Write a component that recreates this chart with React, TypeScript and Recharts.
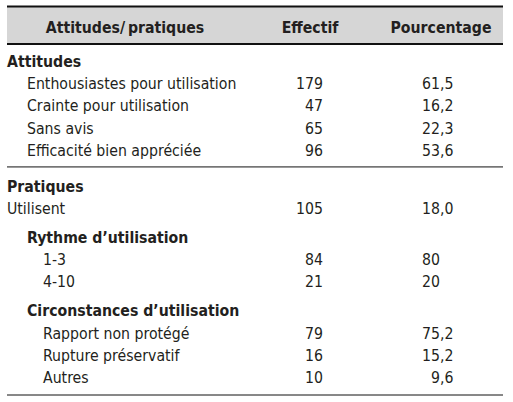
import React from 'react';
import {
  ComposedChart,
  Scatter,
  XAxis,
  YAxis,
  ReferenceArea,
  ReferenceLine
} from 'recharts';

// Table content
const headers = ['Attitudes/\u2009pratiques', 'Effectif', 'Pourcentage'];
const rowLabels = [
  'Attitudes',
  'Enthousiastes pour utilisation',
  'Crainte pour utilisation',
  'Sans avis',
  'Efficacité bien appréciée',
  'Pratiques',
  'Utilisent',
  'Rythme d\u2019utilisation',
  '1-3',
  '4-10',
  'Circonstances d\u2019utilisation',
  'Rapport non protégé',
  'Rupture préservatif',
  'Autres'
];
const rowKinds = [
  'section', 'item', 'item', 'item', 'item',
  'section', 'plain',
  'group', 'subitem', 'subitem',
  'group', 'subitem', 'subitem', 'subitem'
];
const effectifs = [null, 179, 47, 65, 96, null, 105, null, 84, 21, null, 79, 16, 10];
const pourcentages = ['', '61,5', '16,2', '22,3', '53,6', '', '18,0', '', '80', '20', '', '75,2', '15,2', '9,6'];

// Layout
const W = 513;
const H = 402;
const FIRST_ROW_Y = 61;
const ROW_STEP = 22.3;
const LEFT = 7;
const RIGHT = 503;
const INDENT: Record<string, number> = { section: 7, plain: 7, item: 27, group: 27, subitem: 43 };
const EFF_X = 323;
const PCT_X = 440;
const HEADER_X = [125, 310, 441];
const FONT = '"DejaVu Sans Condensed", "Liberation Sans Narrow", sans-serif';
const INK = '#231f20';
const FS = 15.7;

// row line positions: extra space before sections and sub-groups
const rowLines: number[] = [];
{
  let extra = 0;
  rowKinds.forEach((k, i) => {
    if (i > 0 && k === 'section') extra += 0.6;
    if (k === 'group') extra += 0.3;
    rowLines.push(i + extra);
  });
}
const toLine = (px: number) => (px - FIRST_ROW_Y) / ROW_STEP;
const yDomain = [toLine(0), toLine(H)];
const headerLine = toLine(27);
const separators = rowLines.filter((_, i) => i > 0 && rowKinds[i] === 'section').map(l => l - 0.85);

const labelData = rowLabels.map((text, i) => ({
  x: INDENT[rowKinds[i]],
  y: rowLines[i],
  text,
  bold: rowKinds[i] === 'section' || rowKinds[i] === 'group'
}));
const effData = effectifs
  .map((v, i) => ({ x: EFF_X, y: rowLines[i], v }))
  .filter(d => d.v !== null);
const pctData = pourcentages
  .map((v, i) => ({ x: PCT_X, y: rowLines[i], v }))
  .filter(d => d.v !== '');
const headerData = headers.map((text, i) => ({ x: HEADER_X[i], y: headerLine, text }));

const textProps = { fontFamily: FONT, fontSize: FS, fill: INK, dy: '0.36em' };

const LabelShape = (props: any) => (
  <text x={props.cx} y={props.cy} {...textProps} fontWeight={props.payload.bold ? 'bold' : 'normal'}>
    {props.payload.text}
  </text>
);
const HeaderShape = (props: any) => (
  <text x={props.cx} y={props.cy} {...textProps} fontWeight="bold" textAnchor="middle">
    {props.payload.text}
  </text>
);
const EffShape = (props: any) => (
  <text x={props.cx} y={props.cy} {...textProps} textAnchor="end">
    {props.payload.v}
  </text>
);
const PctShape = (props: any) => {
  const [intPart, decPart] = String(props.payload.v).split(',');
  return (
    <g>
      <text x={props.cx} y={props.cy} {...textProps} textAnchor="end">{intPart}</text>
      {decPart !== undefined && (
        <text x={props.cx} y={props.cy} {...textProps} textAnchor="start">{',' + decPart}</text>
      )}
    </g>
  );
};

export default function App() {
  return (
    <div style={{ position: 'absolute', left: 0, top: 0, width: W, height: H, background: '#fff' }}>
      <ComposedChart width={W} height={H} margin={{ top: 0, right: 0, bottom: 0, left: 0 }}>
        <XAxis type="number" dataKey="x" domain={[0, W]} hide />
        <YAxis type="number" dataKey="y" domain={yDomain} reversed hide />
        <ReferenceArea x1={LEFT} x2={RIGHT} y1={toLine(7)} y2={toLine(44)} fill="#d6d6d6" fillOpacity={1} stroke="none" />
        <ReferenceLine segment={[{ x: LEFT, y: toLine(6.5) }, { x: RIGHT, y: toLine(6.5) }]} stroke="#111" strokeWidth={2} />
        <ReferenceLine segment={[{ x: LEFT, y: toLine(44) }, { x: RIGHT, y: toLine(44) }]} stroke="#111" strokeWidth={2} />
        {separators.map(s => (
          <ReferenceLine key={s} segment={[{ x: LEFT, y: s }, { x: RIGHT, y: s }]} stroke="#111" strokeWidth={1} />
        ))}
        <ReferenceLine segment={[{ x: LEFT, y: toLine(395) }, { x: RIGHT, y: toLine(395) }]} stroke="#111" strokeWidth={1} />
        <Scatter data={headerData} shape={HeaderShape} isAnimationActive={false} />
        <Scatter data={labelData} shape={LabelShape} isAnimationActive={false} />
        <Scatter data={effData} shape={EffShape} isAnimationActive={false} />
        <Scatter data={pctData} shape={PctShape} isAnimationActive={false} />
      </ComposedChart>
    </div>
  );
}
